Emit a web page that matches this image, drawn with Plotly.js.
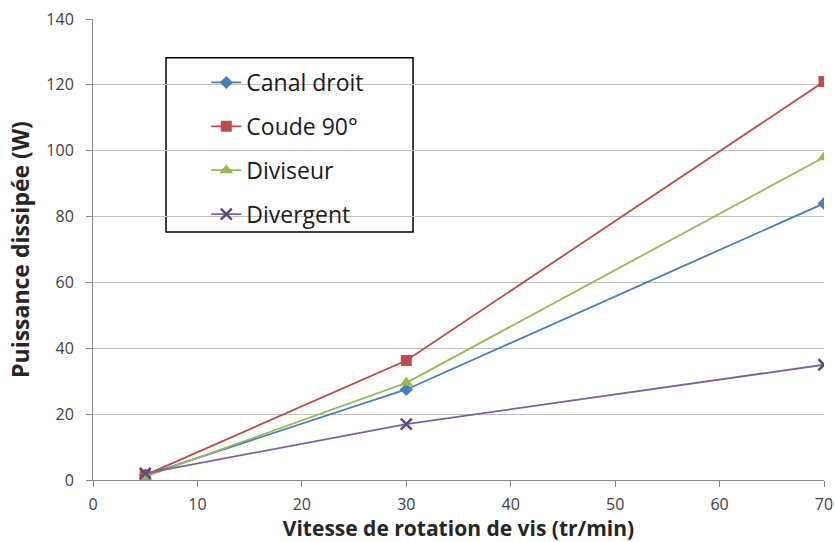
<!DOCTYPE html>
<html>
<head>
<meta charset="utf-8">
<script src="https://cdn.plot.ly/plotly-3.0.1.min.js"></script>
<style>html,body{margin:0;padding:0;background:#fff;}#chart{width:835px;height:542px;}</style>
</head>
<body>
<div id="chart"></div>
<script>
var vitesse = [5, 30, 70];
var canalDroit = [1.5, 27.5, 84];
var coude90 = [1.5, 36.3, 121];
var diviseur = [1, 29.5, 98];
var divergent = [2, 17, 35];

var xTickVals = [0, 10, 20, 30, 40, 50, 60, 70];
var yTickVals = [0, 20, 40, 60, 80, 100, 120, 140];

var seriesNames = ['Canal droit', 'Coude 90°', 'Diviseur', 'Divergent'];
var seriesData = [canalDroit, coude90, diviseur, divergent];
var lineColors = ['#4A7EBB', '#BE4B48', '#98B954', '#7D60A0'];
var markerColors = ['#4A7EBB', '#BE4B48', '#98B954', '#5E4A7D'];
var symbols = ['diamond', 'square', 'triangle-up', 'x-thin'];
var sizes = [10, 11, 12, 11];

var traces = seriesData.map(function (ys, i) {
  return {
    x: vitesse, y: ys, name: seriesNames[i], type: 'scatter', mode: 'lines+markers',
    legendgroup: 'g' + i,
    line: {color: lineColors[i], width: 1.8},
    marker: {symbol: symbols[i], size: sizes[i], color: markerColors[i],
             line: {color: markerColors[i], width: symbols[i] === 'x-thin' ? 2.5 : 0}},
    hoverinfo: 'none'
  };
});

var fontFam = '"Open Sans", "Noto Sans", sans-serif';
var layout = {
  width: 835, height: 542,
  margin: {l: 93, r: 11, t: 19, b: 62},
  paper_bgcolor: '#ffffff', plot_bgcolor: '#ffffff',
  font: {family: fontFam, size: 16, color: '#404040'},
  showlegend: true,
  legend: {
    x: 0.155, y: 0.909, xanchor: 'left', yanchor: 'top',
    borderwidth: 0, bgcolor: 'rgba(0,0,0,0)',
    font: {family: fontFam, size: 23, color: '#1a1a1a'},
    traceorder: 'grouped', tracegroupgap: 11
  },
  shapes: [{
    type: 'rect', xref: 'paper', yref: 'paper', layer: 'below',
    x0: 0.0999, x1: 0.4378, y0: 0.5378, y1: 0.9158,
    line: {color: '#000000', width: 1.5}, fillcolor: '#ffffff'
  }],
  xaxis: {
    range: [0, 70], tickvals: xTickVals, ticktext: xTickVals.map(String),
    showgrid: false, zeroline: false, showline: true, linecolor: '#888888', linewidth: 1,
    ticks: 'outside', ticklen: 6, tickcolor: '#888888', ticklabelstandoff: 4,
    tickfont: {family: fontFam, size: 16, color: '#404040'},
    title: {text: 'Vitesse de rotation de vis (tr/min)', standoff: 8,
            font: {family: fontFam, size: 21, color: '#262626', weight: 'bold'}}
  },
  yaxis: {
    range: [0, 140], tickvals: yTickVals, ticktext: yTickVals.map(String),
    showgrid: true, gridcolor: '#c0c0c0', gridwidth: 1.2,
    zeroline: false, showline: true, linecolor: '#888888', linewidth: 1,
    ticks: 'outside', ticklen: 6, tickcolor: '#888888', ticklabelstandoff: 9,
    tickfont: {family: fontFam, size: 16, color: '#404040'},
    title: {text: 'Puissance dissipée (W)', standoff: 10,
            font: {family: fontFam, size: 23, color: '#262626', weight: 'bold'}}
  }
};

Plotly.newPlot('chart', traces, layout, {staticPlot: true, displayModeBar: false});
</script>
</body>
</html>
